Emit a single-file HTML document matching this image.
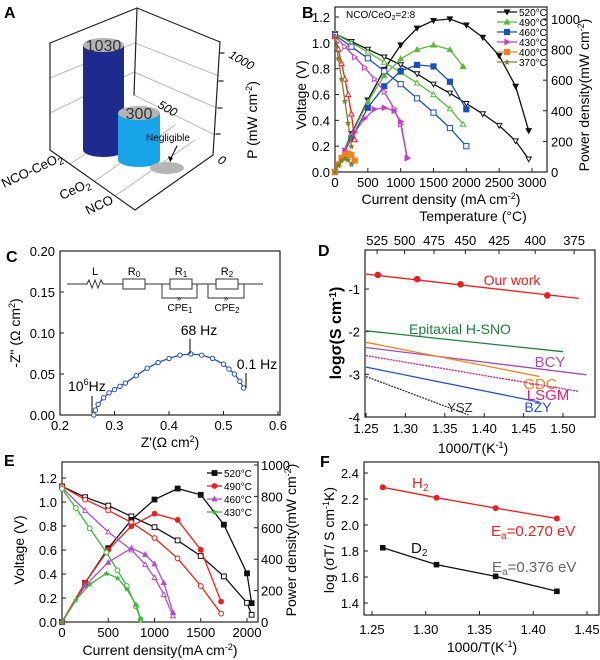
<!DOCTYPE html>
<html><head><meta charset="utf-8"><style>
html,body{margin:0;padding:0;background:#fff;}
svg{display:block;font-family:"Liberation Sans",sans-serif;}
</style></head><body>
<svg id="fig" xmlns="http://www.w3.org/2000/svg" width="600" height="660" viewBox="0 0 600 660">
<g stroke-linecap="round">
  <text x="4" y="18" font-size="16" font-weight="bold">A</text>
  <g stroke="#bbb" stroke-width="1" fill="none">
    <line x1="50" y1="78" x2="135" y2="43"/><line x1="135" y1="43" x2="219" y2="76"/>
    <line x1="50" y1="113" x2="134" y2="72"/><line x1="134" y1="72" x2="217" y2="108"/>
    <line x1="134" y1="95" x2="215" y2="135"/>
    <line x1="70" y1="164" x2="152" y2="110"/><line x1="95" y1="181" x2="175" y2="125"/>
    <line x1="115" y1="196" x2="195" y2="140"/>
  </g>
  <g stroke="#222" stroke-width="1.2" fill="none">
    <line x1="50" y1="43" x2="137" y2="8"/><line x1="137" y1="8" x2="220" y2="42"/>
    <line x1="50" y1="43" x2="50" y2="150"/><line x1="137" y1="8" x2="134" y2="95"/>
    <line x1="220" y1="42" x2="213" y2="155"/>
    <line x1="50" y1="150" x2="135" y2="210"/><line x1="135" y1="210" x2="213" y2="155"/>
    <line x1="220" y1="53" x2="224" y2="53"/><line x1="219" y1="81" x2="223" y2="81"/>
    <line x1="218" y1="108" x2="222" y2="108"/><line x1="216" y1="134" x2="220" y2="134"/>
  </g>
  <g>
    <rect x="83" y="45" width="41" height="105" fill="#1f2a8e"/>
    <ellipse cx="103.5" cy="150" rx="20.5" ry="7" fill="#1f2a8e"/>
    <ellipse cx="103.5" cy="45" rx="20.5" ry="7" fill="#b5b5b5"/>
    <text x="103.5" y="51" font-size="16" text-anchor="middle" fill="#333">1030</text>
  </g>
  <g>
    <rect x="118" y="113" width="42" height="47" fill="#19a3e8"/>
    <ellipse cx="139" cy="160" rx="21" ry="7" fill="#19a3e8"/>
    <ellipse cx="139" cy="113" rx="21" ry="7" fill="#b5b5b5"/>
    <text x="139" y="119" font-size="16" text-anchor="middle" fill="#333">300</text>
  </g>
  <ellipse cx="167" cy="168" rx="17" ry="6" fill="#b5b5b5"/>
  <text x="168" y="141" font-size="10" text-anchor="middle">Negligible</text>
  <line x1="177" y1="146" x2="170" y2="160" stroke="#000" stroke-width="1"/>
  <polygon points="170,162 168,156 173,158" fill="#000"/>
  <g font-size="13">
    <text transform="translate(4,188) rotate(-25)">NCO-CeO<tspan font-size="10" dy="3">2</tspan></text>
    <text transform="translate(62,200) rotate(-25)">CeO<tspan font-size="10" dy="3">2</tspan></text>
    <text transform="translate(88,215) rotate(-25)">NCO</text>
  </g>
  <g font-size="12" font-style="italic">
    <text transform="translate(217,162) rotate(30)">0</text>
    <text transform="translate(157,107) rotate(30)">500</text>
    <text transform="translate(228,57) rotate(30)">1000</text>
  </g>
  <text transform="translate(257,120) rotate(-90)" font-size="14" text-anchor="middle">P (mW cm<tspan font-size="9" dy="-5">-2</tspan><tspan dy="5">)</tspan></text>
</g>
<g id="dyn"></g>
</svg>
<script>
// ---------- DATA ----------
const bCurrent520 = [0,250,500,750,1000,1250,1500,1750,2000,2250,2500,2750,2950];
const bVolt520 = [1.07,1.01,0.95,0.89,0.83,0.76,0.68,0.61,0.53,0.45,0.36,0.24,0.10];
const bPow520 = [0,250,470,670,830,940,990,1000,960,880,760,560,270];
const bCurrent490 = [0,250,500,750,1000,1250,1500,1750,1950];
const bVolt490 = [1.07,1.0,0.93,0.85,0.77,0.69,0.6,0.49,0.37];
const bPow490 = [0,240,460,630,740,800,830,800,690];
const bCurrent460 = [0,250,500,750,1000,1250,1500,1750,2000];
const bVolt460 = [1.06,0.97,0.88,0.78,0.68,0.57,0.46,0.34,0.2];
const bPow460 = [0,220,420,560,660,700,690,590,410];
const bCurrent430 = [0,150,300,450,600,750,900,1000,1100];
const bVolt430 = [1.05,0.97,0.89,0.81,0.72,0.62,0.49,0.37,0.11];
const bPow430 = [0,140,260,350,410,420,400,330,90];
const bCurrent400 = [0,50,100,150,200,250,300];
const bVolt400 = [1.05,0.95,0.84,0.72,0.6,0.45,0.25];
const bPow400 = [0,50,90,110,120,110,75];
const bCurrent370 = [0,50,100,150,200,250];
const bVolt370 = [1.05,0.88,0.72,0.55,0.38,0.2];
const bPow370 = [0,45,75,88,80,50];
const bXTicks = [0,500,1000,1500,2000,2500,3000];
const bVTicks = [0,0.2,0.4,0.6,0.8,1.0,1.2];
const bPTicks = [0,200,400,600,800,1000];
const bLegend = ['520°C','490°C','460°C','430°C','400°C','370°C'];
const cZreal = [0.262,0.265,0.27,0.28,0.29,0.30,0.31,0.32,0.34,0.36,0.38,0.40,0.42,0.44,0.46,0.48,0.50,0.51,0.52,0.53,0.537];
const cZimag = [0,0.006,0.013,0.021,0.027,0.031,0.035,0.039,0.048,0.057,0.064,0.069,0.073,0.0745,0.073,0.069,0.062,0.056,0.05,0.041,0.033];
const cXTicks = [0.2,0.3,0.4,0.5,0.6];
const cYTicks = [0,0.05,0.10,0.15,0.20];
const dOurX = [1.265,1.315,1.37,1.48];
const dOurY = [-0.67,-0.77,-0.89,-1.15];
const dLineNames = ['Our work','Epitaxial H-SNO','BCY','GDC','LSGM','BZY','YSZ'];
const dLineX1 = [1.25,1.25,1.25,1.25,1.25,1.25,1.25];
const dLineY1 = [-0.65,-1.98,-2.37,-2.25,-2.56,-2.83,-3.05];
const dLineX2 = [1.52,1.50,1.53,1.47,1.52,1.47,1.38];
const dLineY2 = [-1.22,-2.47,-3.01,-3.05,-3.4,-3.65,-3.95];
const dXTicks = [1.25,1.30,1.35,1.40,1.45,1.50];
const dYTicks = [-1,-2,-3,-4];
const dTempTicks = [525,500,475,450,425,400,375];
const eCurrent520 = [0,250,500,750,1000,1250,1500,1750,2000,2050];
const eVolt520 = [1.13,1.04,0.97,0.88,0.79,0.68,0.55,0.38,0.16,0.06];
const ePow520 = [0,250,470,650,780,850,810,620,310,120];
const eCurrent490 = [0,250,500,750,1000,1250,1500,1720];
const eVolt490 = [1.13,1.02,0.93,0.83,0.70,0.53,0.30,0.07];
const ePow490 = [0,250,460,610,690,650,460,130];
const eCurrent460 = [0,250,500,750,900,1000,1100,1200];
const eVolt460 = [1.12,0.93,0.75,0.6,0.48,0.37,0.23,0.05];
const ePow460 = [0,230,380,470,430,370,250,60];
const eCurrent430 = [0,150,300,480,600,700,800,850];
const eVolt430 = [1.11,0.95,0.78,0.58,0.43,0.3,0.13,0.02];
const ePow430 = [0,140,240,310,280,210,110,20];
const eXTicks = [0,500,1000,1500,2000];
const eVTicks = [0,0.2,0.4,0.6,0.8,1.0,1.2];
const ePTicks = [0,200,400,600,800,1000];
const eLegend = ['520°C','490°C','460°C','430°C'];
const fX = [1.26,1.31,1.365,1.422];
const fH2 = [2.29,2.21,2.13,2.05];
const fD2 = [1.825,1.695,1.605,1.49];
const fXTicks = [1.25,1.30,1.35,1.40,1.45];
const fYTicks = [1.4,1.6,1.8,2.0,2.2,2.4];

// ---------- HELPERS ----------
const NS = 'http://www.w3.org/2000/svg';
const root = document.getElementById('dyn');
function mk(tag, attrs, parent){
  const e = document.createElementNS(NS, tag);
  for (const k in attrs) e.setAttribute(k, attrs[k]);
  (parent||root).appendChild(e);
  return e;
}
function lin(d0,d1,r0,r1){ return v => r0 + (v-d0)*(r1-r0)/(d1-d0); }
function txt(x,y,s,size,anchor,fill,parent,extra){
  const t = mk('text', Object.assign({x:x,y:y,'font-size':size,'text-anchor':anchor||'start',fill:fill||'#000'}, extra||{}), parent);
  t.innerHTML = s;
  return t;
}
function marker(g,x,y,shape,color,filled,r){
  const f = filled ? color : '#fff';
  let m;
  if (shape==='sq') m = mk('rect',{x:x-r,y:y-r,width:2*r,height:2*r,fill:f,stroke:color,'stroke-width':1},g);
  else if (shape==='circ') m = mk('circle',{cx:x,cy:y,r:r,fill:f,stroke:color,'stroke-width':1},g);
  else if (shape==='tri') m = mk('polygon',{points:`${x},${y-r} ${x-r},${y+r*0.8} ${x+r},${y+r*0.8}`,fill:f,stroke:color,'stroke-width':1},g);
  else if (shape==='tridown') m = mk('polygon',{points:`${x},${y+r} ${x-r},${y-r*0.8} ${x+r},${y-r*0.8}`,fill:f,stroke:color,'stroke-width':1},g);
  else if (shape==='triR') m = mk('polygon',{points:`${x+r},${y} ${x-r*0.8},${y-r} ${x-r*0.8},${y+r}`,fill:f,stroke:color,'stroke-width':1},g);
  else m = mk('polygon',{points:`${x},${y-r} ${x+r*0.35},${y-r*0.3} ${x+r},${y-r*0.2} ${x+r*0.5},${y+r*0.3} ${x+r*0.6},${y+r} ${x},${y+r*0.6} ${x-r*0.6},${y+r} ${x-r*0.5},${y+r*0.3} ${x-r},${y-r*0.2} ${x-r*0.35},${y-r*0.3}`,fill:color,stroke:color,'stroke-width':0.5},g);
  
  
}
function series(name, xs, ys, sx, sy, color, shape, filled, r, dash){
  const g = mk('g',{});
  
  
  const pts = xs.map((v,i)=>sx(v).toFixed(1)+','+sy(ys[i]).toFixed(1)).join(' ');
  const pl = mk('polyline',{points:pts,fill:'none',stroke:color,'stroke-width':1.3,'stroke-dasharray':dash||'none'},g);
  
  
  if (shape) xs.forEach((v,i)=>marker(g,sx(v),sy(ys[i]),shape,color,filled,r));
  return g;
}
function frame(name,x0,y0,x1,y1){
  const r = mk('rect',{x:x0,y:y0,width:x1-x0,height:y1-y0,fill:'none',stroke:'#222','stroke-width':1.2});
  
  
}
function tickLine(x1,y1,x2,y2){
  const l = mk('line',{x1:x1,y1:y1,x2:x2,y2:y2,stroke:'#222','stroke-width':1});
  
  
}

// ---------- PANEL B ----------
(function(){
  const sx = lin(0,3000,335,532), sv = lin(0,1.2,172,17), sp = lin(0,1000,172,19);
  const t = txt(302,18,'B',16,'start','#000',null,{'font-weight':'bold'});
  
  
  frame('panel-b-frame',335,7,547,172);
  bXTicks.forEach(v=>{ tickLine(sx(v),172,sx(v),168); const l=txt(sx(v),187,v,13,'middle');   });
  bVTicks.forEach(v=>{ tickLine(335,sv(v),339,sv(v)); const l=txt(330,sv(v)+5,v.toFixed(1),13,'end');   });
  bPTicks.forEach(v=>{ tickLine(547,sp(v),543,sp(v)); const l=txt(551,sp(v)+5,v,13,'start');   });
  let e = txt(441,204,'Current density (mA cm<tspan font-size="9" dy="-5">-2</tspan><tspan dy="5">)</tspan>',14,'middle');
   
  e = txt(0,0,'Voltage (V)',14,'middle',null,null,{transform:'translate(306,95) rotate(-90)'});
   
  e = txt(0,0,'Power density(mW cm<tspan font-size="9" dy="-5">-2</tspan><tspan dy="5">)</tspan>',14,'middle',null,null,{transform:'translate(589,95) rotate(-90)'});
   
  e = txt(346,18,'NCO/CeO<tspan font-size="7" dy="2">2</tspan><tspan dy="-2">=2:8</tspan>',10,'start');
   
  const cols = ['#111','#5cb83a','#1f4fb5','#c040c0','#f08020','#808030'];
  const shapes = ['tridown','tri','sq','triR','sq','star'];
  const Is=[bCurrent520,bCurrent490,bCurrent460,bCurrent430,bCurrent400,bCurrent370];
  const Vs=[bVolt520,bVolt490,bVolt460,bVolt430,bVolt400,bVolt370];
  const Ps=[bPow520,bPow490,bPow460,bPow430,bPow400,bPow370];
  for (let i=0;i<6;i++){
    const vc = i===4 ? '#e82020' : cols[i];
    const vs = i===4 ? 'tri' : shapes[i];
    series('voltage-'+bLegend[i].slice(0,3), Is[i], Vs[i], sx, sv, vc, vs, false, 2.6);
    series('power-'+bLegend[i].slice(0,3), Is[i], Ps[i], sx, sp, cols[i], shapes[i], true, 2.6);
    const y = 12 + i*10;
    const lg = mk('g',{});
    
    
    mk('line',{x1:497,y1:y,x2:517,y2:y,stroke:cols[i],'stroke-width':1.3},lg);
    marker(lg,507,y,shapes[i],cols[i],true,2.6);
    txt(519,y+4,bLegend[i],10,'start','#000',lg);
  }
})();

// ---------- PANEL C ----------
(function(){
  const sx = lin(0.2,0.6,60,278), sy = lin(0,0.2,415,251);
  let e = txt(6,262,'C',16,'start','#000',null,{'font-weight':'bold'});
   
  frame('panel-c-frame',60,251,280,415);
  cXTicks.forEach(v=>{ tickLine(sx(v),415,sx(v),411); const l=txt(sx(v),430,v.toFixed(1),13,'middle');   });
  cYTicks.forEach(v=>{ tickLine(60,sy(v),64,sy(v)); const l=txt(55,sy(v)+5,v.toFixed(2),13,'end');   });
  e = txt(170,447,"Z'(Ω cm<tspan font-size=\"9\" dy=\"-5\">2</tspan><tspan dy=\"5\">)</tspan>",14,'middle');
   
  e = txt(0,0,'-Z" (Ω cm<tspan font-size="9" dy="-5">2</tspan><tspan dy="5">)</tspan>',14,'middle',null,null,{transform:'translate(20,333) rotate(-90)'});
   
  series('impedance-arc', cZreal, cZimag, sx, sy, '#2a4fb0', 'circ', false, 2.2);
  const g = mk('g',{fill:'none',stroke:'#333','stroke-width':1});
  
  
  mk('path',{d:'M67 284 H87 l2 -4 l3 8 l3 -8 l3 8 l3 -8 l2 4 H123 M145 284 H170 M192 284 H216 M238 284 H263 M162 284 V298 H197 V284 M208 284 V298 H244 V284'},g);
  mk('rect',{x:123,y:279,width:22,height:10,fill:'#fff'},g);
  mk('rect',{x:170,y:279,width:22,height:10,fill:'#fff'},g);
  mk('rect',{x:216,y:279,width:22,height:10,fill:'#fff'},g);
  txt(95,275,'L',11,'middle','#000',g,{stroke:'none'});
  txt(134,275,'R<tspan font-size="8" dy="2">0</tspan>',11,'middle','#000',g,{stroke:'none'});
  txt(181,275,'R<tspan font-size="8" dy="2">1</tspan>',11,'middle','#000',g,{stroke:'none'});
  txt(227,275,'R<tspan font-size="8" dy="2">2</tspan>',11,'middle','#000',g,{stroke:'none'});
  txt(179,301,'»',8,'middle','#000',g,{stroke:'none'});
  txt(226,301,'»',8,'middle','#000',g,{stroke:'none'});
  txt(180,311,'CPE<tspan font-size="8" dy="2">1</tspan>',10,'middle','#000',g,{stroke:'none'});
  txt(227,311,'CPE<tspan font-size="8" dy="2">2</tspan>',10,'middle','#000',g,{stroke:'none'});
  const a = mk('g',{});
  
  
  txt(199,335,'68 Hz',14,'middle','#000',a);
  mk('line',{x1:190,y1:339,x2:190,y2:354,stroke:'#000'},a);
  txt(257,369,'0.1 Hz',14,'middle','#000',a);
  mk('line',{x1:246,y1:373,x2:246,y2:388,stroke:'#000'},a);
  txt(68,391,'10<tspan font-size="9" dy="-6">6</tspan><tspan dy="6">Hz</tspan>',14,'start','#000',a);
  mk('line',{x1:92,y1:396,x2:92,y2:413,stroke:'#000'},a);
})();

// ---------- PANEL D ----------
(function(){
  const sx = lin(1.25,1.50,366,563), sy = lin(-1,-4,289,417);
  const st = lin(1.253,1.543,377,574);
  let e = txt(318,256,'D',16,'start','#000',null,{'font-weight':'bold'});
   
  frame('panel-d-frame',365,250,595,417);
  dXTicks.forEach(v=>{ tickLine(sx(v),417,sx(v),413); const l=txt(sx(v),433,v.toFixed(2),13,'middle');   });
  dYTicks.forEach(v=>{ tickLine(365,sy(v),369,sy(v)); const l=txt(360,sy(v)+5,v,13,'end');   });
  dTempTicks.forEach(T=>{ const x=st(1000/(T+273)); tickLine(x,250,x,254); const l=txt(x,245,T,13,'middle');   });
  e = txt(473,221,'Temperature (°C)',14,'middle');
   
  e = txt(473,453,'1000/T(K<tspan font-size="9" dy="-5">-1</tspan><tspan dy="5">)</tspan>',14,'middle');
   
  e = txt(0,0,'logσ(S cm<tspan font-size="10" dy="-5">-1</tspan><tspan dy="5">)</tspan>',16,'middle',null,null,{transform:'translate(341,333) rotate(-90)','font-weight':'bold'});
   
  const cols = ['#e82020','#1e7f3a','#a050b0','#f08020','#e0207a','#2a50c0','#333'];
  const dashes = ['none','none','none','none','2,1','none','2,1'];
  const labX = [512,460,550,540,548,538,460], labY=[285,334,367,389,400,412,412], labS=[14,14,15,15,15,14,13];
  for (let i=0;i<7;i++){
    series('line-'+dLineNames[i].toLowerCase().replace(/ /g,'-'), [dLineX1[i],dLineX2[i]], [dLineY1[i],dLineY2[i]], sx, sy, cols[i], null, false, 0, dashes[i]);
    const l = txt(labX[i],labY[i],dLineNames[i],labS[i],'middle',cols[i]);
    
    
  }
  series('our-work-points', dOurX, dOurY, sx, sy, '#e82020', 'circ', true, 2.8, '0,1000');
})();

// ---------- PANEL E ----------
(function(){
  const sx = lin(0,2000,62,247), sv = lin(0,1.2,622,478), sp = lin(0,1000,622,465);
  let e = txt(4,466,'E',16,'start','#000',null,{'font-weight':'bold'});
   
  frame('panel-e-frame',62,462,258,622);
  eXTicks.forEach(v=>{ tickLine(sx(v),622,sx(v),618); const l=txt(sx(v),637,v,13,'middle');   });
  eVTicks.forEach(v=>{ tickLine(62,sv(v),66,sv(v)); const l=txt(57,sv(v)+5,v.toFixed(1),13,'end');   });
  ePTicks.forEach(v=>{ tickLine(258,sp(v),254,sp(v)); const l=txt(261,sp(v)+5,v,13,'start');   });
  e = txt(160,655,'Current density(mA cm<tspan font-size="9" dy="-5">-2</tspan><tspan dy="5">)</tspan>',14,'middle');
   
  e = txt(0,0,'Voltage (V)',14,'middle',null,null,{transform:'translate(24,550) rotate(-90)'});
   
  e = txt(0,0,'Power density(mW cm<tspan font-size="9" dy="-5">-2</tspan><tspan dy="5">)</tspan>',14,'middle',null,null,{transform:'translate(296,540) rotate(-90)'});
   
  const cols = ['#111','#e82020','#b050c0','#3cb43c'];
  const shapes = ['sq','circ','tri','star'];
  const Is=[eCurrent520,eCurrent490,eCurrent460,eCurrent430];
  const Vs=[eVolt520,eVolt490,eVolt460,eVolt430];
  const Ps=[ePow520,ePow490,ePow460,ePow430];
  for (let i=0;i<4;i++){
    series('voltage-'+eLegend[i].slice(0,3), Is[i], Vs[i], sx, sv, cols[i], shapes[i]==='star'?'circ':shapes[i], false, 2.4);
    series('power-'+eLegend[i].slice(0,3), Is[i], Ps[i], sx, sp, cols[i], shapes[i], true, 2.4);
    const y = 473 + i*13;
    const lg = mk('g',{});
    
    
    mk('line',{x1:207,y1:y,x2:222,y2:y,stroke:cols[i],'stroke-width':1.3},lg);
    marker(lg,214.5,y,shapes[i],cols[i],true,2.4);
    txt(224,y+4,eLegend[i],10,'start','#000',lg);
  }
})();

// ---------- PANEL F ----------
(function(){
  const sx = lin(1.25,1.45,372,587), sy = lin(1.4,2.4,603,473);
  let e = txt(320,467,'F',16,'start','#000',null,{'font-weight':'bold'});
   
  frame('panel-f-frame',364,462,599,615);
  fXTicks.forEach(v=>{ tickLine(sx(v),615,sx(v),611); const l=txt(sx(v),634,v.toFixed(2),13,'middle');   });
  fYTicks.forEach(v=>{ tickLine(364,sy(v),368,sy(v)); const l=txt(359,sy(v)+5,v.toFixed(1),13,'end');   });
  e = txt(482,652,'1000/T(K<tspan font-size="9" dy="-5">-1</tspan><tspan dy="5">)</tspan>',14,'middle');
   
  e = txt(0,0,'log (σT/ S cm<tspan font-size="9" dy="-5">-1</tspan><tspan dy="5">K)</tspan>',14,'middle',null,null,{transform:'translate(334,540) rotate(-90)'});
   
  series('h2-series', fX, fH2, sx, sy, '#e82020', 'circ', true, 2.5);
  series('d2-series', fX, fD2, sx, sy, '#111', 'sq', true, 2.3);
  e = txt(412,488,'H<tspan font-size="10" dy="3">2</tspan>',15,'start','#e82020');
   
  e = txt(491,536,'E<tspan font-size="10" dy="3">a</tspan><tspan dy="-3">=0.270 eV</tspan>',15,'start','#e82020');
   
  e = txt(411,553,'D<tspan font-size="10" dy="3">2</tspan>',15,'start','#111');
   
  e = txt(492,572,'E<tspan font-size="10" dy="3">a</tspan><tspan dy="-3">=0.376 eV</tspan>',15,'start','#666');
   
})();
</script>
</body></html>
